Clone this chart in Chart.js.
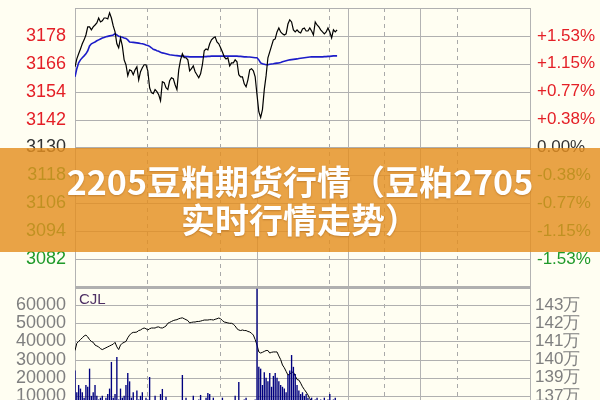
<!DOCTYPE html>
<html>
<head>
<meta charset="utf-8">
<script src="https://cdn.jsdelivr.net/npm/chart.js@4.4.1/dist/chart.umd.min.js"></script>
<style>
  html, body { margin: 0; padding: 0; background: #fffef2; overflow: hidden; }
  #wrap { position: relative; width: 600px; height: 400px; overflow: hidden; }
  #c { position: absolute; left: 0; top: -8px; }
  #banner {
    position: absolute; left: 0; top: 148px; width: 600px; height: 104px;
    background: rgba(228, 143, 32, 0.82);
    display: flex; align-items: center; justify-content: center; text-align: center;
    color: #fff; font: bold 34px/38px "Noto Sans CJK SC", sans-serif;
    text-shadow: 0 1px 2px rgba(120, 60, 0, 0.35);
  }
</style>
</head>
<body>
<div id="wrap">
  <canvas id="c" width="600" height="438"></canvas>
  <div id="banner">2205豆粕期货行情（豆粕2705<br>实时行情走势）</div>
</div>
<script>
// previous settlement, the 0.00% line
const prevClose = 3130;

// one value per time slot, left to right
const price = [3164.7,3168.1,3170.3,3172.4,3174.6,3176.3,3178.4,3181.9,3181.9,3180.6,
  3181.9,3182.7,3183.6,3185.7,3184.0,3184.5,3185.7,3185.7,3185.3,3187.9,
  3185.7,3182.3,3179.7,3174.6,3172.9,3177.1,3173.7,3167.7,3165.6,3160.9,
  3163.4,3163.0,3161.3,3163.4,3164.7,3159.1,3162.6,3164.3,3165.6,3165.6,
  3163.0,3155.7,3153.6,3153.2,3154.9,3154.0,3152.7,3150.1,3158.3,3157.9,
  3155.7,3154.9,3158.7,3160.0,3159.6,3157.0,3154.9,3163.4,3167.7,3170.3,
  3168.6,3168.6,3167.7,3163.0,3163.9,3165.1,3162.6,3161.3,3160.0,3161.7,
  3165.6,3171.6,3172.4,3172.0,3174.6,3176.3,3177.1,3177.6,3175.4,3174.6,
  3172.9,3171.1,3169.0,3168.1,3168.6,3165.1,3166.4,3166.4,3167.7,3166.9,
  3161.3,3160.4,3160.4,3157.4,3156.1,3159.1,3163.4,3163.9,3163.0,3160.4,
  3152.7,3145.4,3142.9,3146.3,3154.9,3160.9,3168.6,3171.1,3173.7,3176.3,
  3176.7,3179.7,3181.4,3179.7,3178.9,3178.4,3178.9,3183.1,3184.9,3184.0,
  3180.6,3179.7,3180.6,3179.7,3179.3,3181.0,3181.4,3180.1,3180.1,3181.4,
  3180.1,3178.4,3184.0,3182.7,3181.9,3180.6,3179.7,3178.9,3179.7,3181.4,
  3179.7,3177.1,3180.6,3179.7,3180.6];

const avg = [3160.4,3163.9,3166.4,3167.7,3168.6,3169.4,3170.3,3171.6,3173.7,3174.6,
  3175.0,3175.4,3175.9,3176.3,3176.7,3177.1,3177.3,3177.6,3177.8,3178.0,
  3178.2,3178.4,3178.9,3178.4,3177.8,3177.6,3177.4,3177.1,3176.9,3176.3,
  3175.4,3175.3,3175.2,3175.1,3175.0,3174.9,3174.7,3174.6,3174.4,3174.1,
  3173.9,3173.5,3172.9,3172.2,3172.0,3171.6,3171.4,3171.0,3170.7,3170.5,
  3170.3,3170.1,3169.9,3169.8,3169.7,3169.6,3169.5,3169.4,3169.3,3169.2,
  3169.2,3169.1,3169.1,3169.0,3169.0,3169.0,3169.0,3169.0,3169.0,3169.0,
  3169.0,3169.1,3169.1,3169.2,3169.2,3169.3,3169.3,3169.3,3169.3,3169.3,
  3169.3,3169.3,3169.3,3169.3,3169.3,3169.3,3169.3,3169.3,3169.3,3169.3,
  3169.2,3169.2,3169.1,3169.0,3169.0,3168.9,3168.9,3168.8,3168.7,3168.6,
  3168.6,3167.7,3166.4,3166.0,3165.8,3165.6,3165.6,3165.8,3165.9,3166.0,
  3166.2,3166.3,3166.4,3166.6,3166.9,3167.1,3167.3,3167.5,3167.7,3167.8,
  3167.9,3168.0,3168.1,3168.3,3168.4,3168.5,3168.6,3168.7,3168.8,3168.9,
  3169.0,3169.0,3169.0,3169.0,3169.0,3169.0,3169.0,3169.1,3169.1,3169.2,
  3169.2,3169.3,3169.4,3169.4,3169.4];

// CJL volume, lots
const vol = [24000,12000,16000,14000,12000,9000,16000,15000,25000,10000,
  12000,16000,10000,8000,9000,10000,6000,9000,11000,14000,
  28700,9000,11000,31400,8000,14000,9000,10000,16000,22600,
  18000,9000,12000,7000,13000,8000,10000,12000,7000,9000,
  8000,20400,7000,6000,10000,5000,7000,11000,13800,6000,
  9500,5000,4000,6000,5000,4000,6000,5000,6000,21500,
  6000,9000,5000,4000,5000,10000,5000,4000,8000,10500,
  6000,6000,9000,11600,11000,6000,9000,5000,4000,5000,
  4000,9000,5000,4000,5000,4000,6000,6000,10000,6000,
  17600,5000,5000,8000,9000,5000,6000,4000,6000,8000,
  69000,26000,25000,16000,23000,20000,18000,22600,15000,21000,
  22600,20000,18000,16000,15000,14000,12000,21500,24000,32500,
  26000,22000,16000,13000,11000,12000,10000,11000,9000,8000,
  9000,7000,8000,9000,7000,8000,6000,9000,7000,8000,
  11000,7000,8000,9000,6000];

// open interest, 万 lots
const oi = [140.5,140.9,141.0,141.1,141.2,141.3,141.35,141.25,141.1,141.0,
  140.95,140.8,140.75,140.7,140.6,140.55,140.6,140.65,140.7,140.75,
  140.8,140.85,140.95,140.7,140.55,140.8,140.9,140.95,141.0,141.2,
  141.35,141.45,141.5,141.5,141.52,141.6,141.63,141.7,141.74,141.7,
  141.63,141.7,141.74,141.74,141.74,141.79,141.8,141.75,141.74,141.79,
  141.85,142.0,142.05,142.1,142.15,142.18,142.2,142.25,142.28,142.3,
  142.25,142.2,142.15,142.02,142.05,142.07,142.07,142.1,142.1,142.12,
  142.15,142.18,142.18,142.18,142.2,142.2,142.18,142.22,142.25,142.29,
  142.25,142.15,142.07,142.05,142.02,142.0,142.0,141.95,141.85,141.7,
  141.63,141.6,141.63,141.6,141.6,141.55,141.52,141.45,141.35,141.1,
  140.8,140.42,140.36,140.4,140.45,140.5,140.5,140.36,140.4,140.42,
  140.42,140.42,140.2,140.0,139.7,139.55,139.35,139.15,139.2,139.3,
  139.31,139.1,138.9,138.87,138.7,138.5,138.35,138.21,138.05,137.85,
  137.7,137.6,137.55,137.5,137.45,137.4,137.35,137.3,137.3,137.25,
  137.2,137.2,137.15,137.1,137.1];

// time axis: slots in the session, and where the session lines fall
const slotCount = 250;
const solidGridAt = [0, 100, 150, 190, 250];
const dashedGridAt = [40, 80, 140, 170, 210];

// axis ranges / tick labels
const priceMin = 3070, priceMax = 3190, priceStep = 12;
const volMin = 0, volMax = 70000, volStep = 10000;
const oiMin = 137, oiMax = 144;
const oiTickValues = [143, 142, 141, 140, 139, 138];
const oiTickLabels = ['143万', '142万', '141万', '140万', '139万', '137万'];
const volTitle = 'CJL';

const RED = '#e41f26', GREEN = '#1f9a2a', DARK = '#333333', GREY = '#7f7f7f';
const GRID = '#b0b0b0';
const tickFont = { family: 'Liberation Sans, Arial', size: 18, lineHeight: '14px' };
const noGrid = { display: false, drawTicks: false };

function priceColor(c) {
  const v = c.tick.value;
  return v > prevClose ? RED : (v < prevClose ? GREEN : DARK);
}

// horizontal rules of both panels, placed by each panel's value scale
const hGrid = {
  id: 'hGrid',
  beforeDatasetsDraw(chart) {
    const { ctx, chartArea } = chart;
    const heavy = { yP: [prevClose, priceMin], yV: [volMax] };
    ctx.save();
    ctx.strokeStyle = GRID;
    for (const id of ['yP', 'yV']) {
      const s = chart.scales[id];
      for (const t of s.ticks) {
        const w = heavy[id].includes(t.value) ? (t.value === prevClose ? 2 : 3) : 1;
        let y = s.getPixelForValue(t.value);
        y = w % 2 ? Math.round(y) + 0.5 : Math.round(y);
        ctx.lineWidth = w;
        ctx.beginPath();
        ctx.moveTo(chartArea.left, y);
        ctx.lineTo(chartArea.right, y);
        ctx.stroke();
      }
    }
    ctx.restore();
  }
};

const cjlLabel = {
  id: 'cjlLabel',
  afterDraw(chart) {
    const { ctx, chartArea, scales } = chart;
    ctx.save();
    ctx.font = '15px "Liberation Sans", Arial';
    ctx.fillStyle = '#4d2f63';
    ctx.textBaseline = 'middle';
    ctx.fillText(volTitle, chartArea.left + 4, scales.yV.top + 13);
    ctx.restore();
  }
};

new Chart(document.getElementById('c'), {
  type: 'bar',
  data: {
    labels: price.map((_, i) => i),
    datasets: [
      { type: 'line', data: price, xAxisID: 'x', yAxisID: 'yP', borderColor: '#000', borderWidth: 1.2, pointRadius: 0, tension: 0 },
      { type: 'line', data: avg, xAxisID: 'x', yAxisID: 'yP', borderColor: '#1c1cc8', borderWidth: 1.6, pointRadius: 0, tension: 0 },
      { type: 'bar', data: vol, xAxisID: 'x', yAxisID: 'yV', backgroundColor: '#00007f', barPercentage: 0.75, categoryPercentage: 1 },
      { type: 'line', data: oi, xAxisID: 'x', yAxisID: 'yOI', borderColor: '#000', borderWidth: 1, pointRadius: 0, tension: 0 }
    ]
  },
  options: {
    responsive: false,
    animation: false,
    devicePixelRatio: 1,
    layout: { padding: 0 },
    plugins: { legend: { display: false }, tooltip: { enabled: false } },
    scales: {
      x: {
        type: 'linear', position: 'bottom', min: 0, max: slotCount, offset: false,
        afterBuildTicks: s => { s.ticks = solidGridAt.map(v => ({ value: v })); },
        afterFit: s => { s.height = 0; },
        ticks: { display: false },
        grid: { color: '#b3b3b3', drawTicks: false, offset: false },
        border: { display: false }
      },
      x2: {
        type: 'linear', position: 'bottom', min: 0, max: slotCount, offset: false,
        afterBuildTicks: s => { s.ticks = dashedGridAt.map(v => ({ value: v })); },
        afterFit: s => { s.height = 0; },
        ticks: { display: false },
        grid: { color: '#a9a9a9', drawTicks: false, offset: false },
        border: { display: false, dash: [4, 4] }
      },
      yV: {
        type: 'linear', position: 'left', stack: 'L', stackWeight: 127,
        min: volMin, max: volMax,
        afterFit: s => { s.width = 75; },
        ticks: {
          stepSize: volStep, autoSkip: false, padding: 9, color: GREY, font: tickFont,
          callback: v => (v === volMin || v === volMax) ? '' : String(v)
        },
        grid: noGrid,
        border: { display: false }
      },
      yPct: {
        type: 'linear', position: 'right', stack: 'R', stackWeight: 279,
        min: priceMin, max: priceMax,
        afterFit: s => { s.width = 70; },
        ticks: {
          stepSize: priceStep, autoSkip: false, padding: 7, color: priceColor,
          font: { family: 'Liberation Sans, Arial', size: 17, lineHeight: '14px' },
          callback: v => {
            if (v === priceMin || v === priceMax) return '';
            const p = (v - prevClose) / prevClose * 100;
            return (p > 0 ? '+' : '') + p.toFixed(2) + '%';
          }
        },
        grid: noGrid,
        border: { display: false }
      },
      yP: {
        type: 'linear', position: 'left', stack: 'L', stackWeight: 279,
        min: priceMin, max: priceMax,
        afterFit: s => { s.width = 75; },
        ticks: {
          stepSize: priceStep, autoSkip: false, padding: 9, color: priceColor, font: tickFont,
          callback: v => (v === priceMin || v === priceMax) ? '' : String(v)
        },
        grid: noGrid,
        border: { display: false }
      },
      yOI: {
        type: 'linear', position: 'right', stack: 'R', stackWeight: 127,
        min: oiMin, max: oiMax,
        afterFit: s => { s.width = 70; },
        ticks: {
          stepSize: 1, autoSkip: false, padding: 5, color: GREY,
          font: { family: 'Liberation Sans, Arial', size: 17, lineHeight: '14px' },
          callback: v => {
            const k = oiTickValues.indexOf(v);
            return k < 0 ? '' : oiTickLabels[k];
          }
        },
        grid: noGrid,
        border: { display: false }
      }
    }
  },
  plugins: [hGrid, cjlLabel]
});
</script>
</body>
</html>
